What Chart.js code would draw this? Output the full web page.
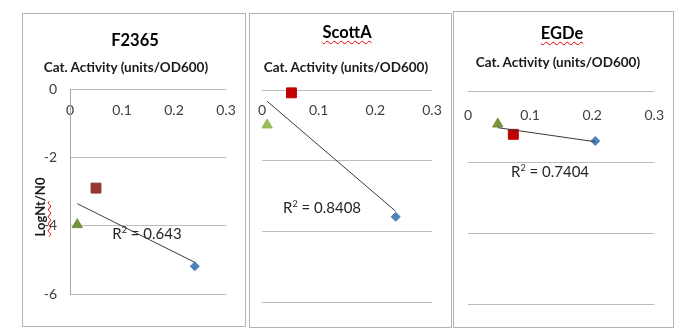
<!DOCTYPE html>
<html>
<head>
<meta charset="utf-8">
<script src="https://cdn.jsdelivr.net/npm/chart.js@4.4.1/dist/chart.umd.min.js"></script>
<style>
  html, body { margin: 0; padding: 0; background: #fff; }
  body {
    width: 683px; height: 332px; position: relative; overflow: hidden;
    font-family: Lato, "Liberation Sans", sans-serif; color: #000;
  }
  .frame { position: absolute; border: 1px solid #b4b4b4; box-sizing: border-box; }
  .plot { position: absolute; }
  .txt { position: absolute; white-space: nowrap; transform: translate(-50%, -50%); line-height: 1; }
  .title { font-weight: bold; font-size: 16.5px; }
  .caption { font-weight: bold; font-size: 13.5px; color: #1a1a1a; }
  .spell { text-decoration: underline wavy #e00000; text-decoration-thickness: 1px; text-underline-offset: 2px; }
  .r2 { font-size: 15px; color: #262626; }
  .r2 sup { font-size: 9px; vertical-align: 6px; }
  .ytitle { font-weight: bold; font-size: 13px; color: #1a1a1a; transform: translate(-50%, -50%) rotate(-90deg); }
</style>
</head>
<body>

<!-- panel frames -->
<div class="frame" style="left:22px;top:13px;width:224px;height:314px"></div>
<div class="frame" style="left:249px;top:13px;width:203px;height:315px"></div>
<div class="frame" style="left:453px;top:11px;width:221px;height:317px"></div>

<canvas id="c1" class="plot" width="221" height="311" style="left:23px;top:14px"></canvas>
<canvas id="c2" class="plot" width="200" height="312" style="left:250px;top:14px"></canvas>
<canvas id="c3" class="plot" width="218" height="314" style="left:454px;top:12px"></canvas>

<div class="txt title" style="left:135px;top:40px">F2365</div>
<div class="txt title" style="left:347px;top:32px"><span class="spell">ScottA</span></div>
<div class="txt title" style="left:562px;top:33px"><span class="spell">EGDe</span></div>

<div class="txt caption" style="left:126px;top:68px">Cat. Activity (units/OD600)</div>
<div class="txt caption" style="left:346px;top:68px">Cat. Activity (units/OD600)</div>
<div class="txt caption" style="left:558px;top:63px">Cat. Activity (units/OD600)</div>

<div class="txt ytitle" style="left:40px;top:207px"><span class="spell">LogNt</span>/N0</div>

<div class="txt r2" id="r2-1" style="left:147px;top:233px"></div>
<div class="txt r2" id="r2-2" style="left:322px;top:207px"></div>
<div class="txt r2" id="r2-3" style="left:550px;top:171px"></div>

<script>
// axis ticks shared by all three panels
const xTicks = [0, 0.1, 0.2, 0.3];
const yTicks = [0, -2, -4, -6];

// catalase activity vs log reduction, per strain
// order of points: diamond, square, triangle
const f2365Activity = [0.24, 0.05, 0.014];
const f2365LogNtN0 = [-5.19, -2.9, -3.97];

const scottaActivity = [0.236, 0.052, 0.009];
const scottaLogNtN0 = [-3.59, -0.08, -0.99];

const egdeActivity = [0.205, 0.073, 0.048];
const egdeLogNtN0 = [-1.41, -1.22, -0.93];

const r2Values = ['0.643', '0.8408', '0.7404'];

// =========================
// trendline (least squares)
// =========================
function trendline(xs, ys) {
  const n = xs.length;
  const mx = xs.reduce((a, b) => a + b, 0) / n;
  const my = ys.reduce((a, b) => a + b, 0) / n;
  let sxx = 0, sxy = 0;
  for (let i = 0; i < n; i++) {
    sxx += (xs[i] - mx) * (xs[i] - mx);
    sxy += (xs[i] - mx) * (ys[i] - my);
  }
  const slope = sxy / sxx;
  const icpt = my - slope * mx;
  const x0 = Math.min(...xs), x1 = Math.max(...xs);
  return [{ x: x0, y: icpt + slope * x0 }, { x: x1, y: icpt + slope * x1 }];
}

const markers = [
  { style: 'rectRot', radius: 4.5 },
  { style: 'rect', radius: 7 },
  { style: 'triangle', radius: 6 }
];

function makeChart(id, xs, ys, opt) {
  const pointSets = xs.map((x, i) => ({
    type: 'scatter',
    data: [{ x: x, y: ys[i] }],
    pointStyle: markers[i].style,
    pointRadius: markers[i].radius,
    backgroundColor: opt.colors[i],
    borderColor: opt.colors[i],
    borderWidth: 1,
    clip: false,
    order: 1
  }));

  return new Chart(document.getElementById(id), {
    type: 'scatter',
    data: {
      datasets: [{
        type: 'line',
        data: trendline(xs, ys),
        borderColor: '#3a3a3a',
        borderWidth: 1,
        pointRadius: 0,
        fill: false,
        clip: false,
        order: 0
      }].concat(pointSets)
    },
    options: {
      responsive: false,
      animation: false,
      events: [],
      devicePixelRatio: 1,
      layout: { padding: opt.padding },
      plugins: { legend: { display: false }, tooltip: { enabled: false } },
      scales: {
        x: {
          type: 'linear',
          min: 0,
          max: 0.3,
          position: { y: 0 },
          grid: { display: false },
          border: { display: false },
          afterBuildTicks: s => { s.ticks = xTicks.map(v => ({ value: v })); },
          ticks: {
            padding: opt.xPad,
            color: '#404040',
            font: { family: 'Lato', size: 14 },
            callback: v => String(v)
          }
        },
        y: {
          type: 'linear',
          min: -6,
          max: 0,
          afterBuildTicks: s => { s.ticks = yTicks.map(v => ({ value: v })); },
          afterFit: s => { s.width = opt.yWidth; },
          grid: { color: '#bcbcbc', drawTicks: false },
          border: { display: opt.yAxis, color: '#a6a6a6' },
          ticks: {
            display: opt.yAxis,
            padding: 13,
            color: '#404040',
            font: { family: 'Lato', size: 14 },
            callback: v => String(v)
          }
        }
      }
    }
  });
}

makeChart('c1', f2365Activity, f2365LogNtN0, {
  colors: ['#4f81bd', '#953735', '#77933c'],
  padding: { left: 0, right: 18, top: 75, bottom: 31 },
  yWidth: 47, yAxis: true, xPad: 5
});

makeChart('c2', scottaActivity, scottaLogNtN0, {
  colors: ['#4f81bd', '#c00000', '#9bbb59'],
  padding: { left: 12, right: 18, top: 76, bottom: 24 },
  yWidth: 0, yAxis: false, xPad: 4
});

makeChart('c3', egdeActivity, egdeLogNtN0, {
  colors: ['#4f81bd', '#c00000', '#77933c'],
  padding: { left: 14, right: 17, top: 79, bottom: 22 },
  yWidth: 0, yAxis: false, xPad: 8
});

// R² labels next to each trendline
r2Values.forEach((v, i) => {
  document.getElementById('r2-' + (i + 1)).innerHTML = 'R<sup>2</sup> = ' + v;
});
</script>
</body>
</html>
